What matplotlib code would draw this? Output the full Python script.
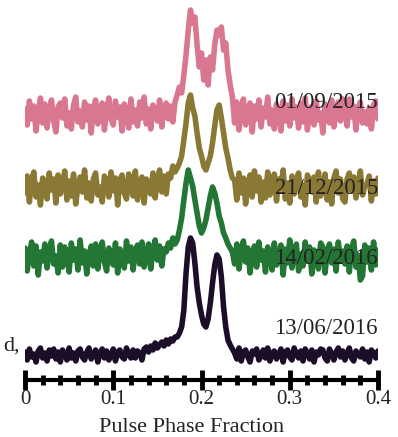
import matplotlib
matplotlib.use("Agg")
import matplotlib.pyplot as plt
import numpy as np

# phase bins (0 .. 0.4, 161 bins)
phase = np.linspace(0, 0.4, 161)

labels = ["01/09/2015", "21/12/2015", "14/02/2016", "13/06/2016"]
colors = ["#d97791", "#8a7934", "#247634", "#1c0e28"]

# profiles (relative to each baseline)
prof_0109 = [6, -10, 14, -4, 9, -16, 3, 17, -8, 11,
             -13, 5, 15, -6, -17, 8, 12, -3, 16, -11,
             2, -14, 10, 18, -7, 4, -12, 13, -5, 9,
             -18, 7, 15, -9, 1, 12, -15, 6, 17, -4,
             -10, 14, -2, 8, -16, 11, 3, -13, 16, -7,
             5, -11, 13, -3, 18, -9, 6, -14, 10, 2,
             -6, 15, -12, 8, 12, -4, 9, -7, 13,
             20, 28, 22, 40, 60, 85, 105, 92, 98, 70, 48, 62, 35, 55, 30, 58, 45, 70, 85, 80,
             88, 65, 72, 45, 30, 18,
             -8, 13, -15, 6, 16, -10, 3, 12, -17, 9,
             -4, 15, -12, 7, -2, 18, -9, 5, -14, 11,
             1, -16, 14, -6, 10, -11, 16, -3, 8, -13,
             12, -7, 17, -15, 4, 9, -10, 14, -5, 2,
             -18, 11, 6, -8, 15, -12, 3, 13, -6, 16,
             5, -11, 16, -2, 9, -15, 7, 13, -8, 3,
             -9, 7, -14, 10, 14, -4]
prof_2112 = [-5, 12, -14, 8, 16, -9, 3, -17, 10, 6,
             -11, 15, -2, 9, -15, 13, -6, 4, 17, -12,
             7, -8, 14, -16, 2, 11, -4, 18, -10, 5,
             -13, 9, 15, -7, 1, -14, 12, 6, -9, 16,
             -3, 10, -17, 8, 13, -5, -11, 14, 4, -8,
             17, -12, 6, 11, -15, 9, 2, -6, 15, -10,
             8, 18, -4, 12, -6, 14, 10, 22, 16,
             20, 25, 32, 48, 65, 85, 93, 80, 72, 55, 40, 32, 22, 18, 25, 32, 45, 62, 78, 83,
             70, 55, 40, 30, 18, 10,
             8, -12, 15, -5, 10, -16, 4, 13, -9, 17,
             -3, 11, -14, 6, -10, 16, -7, 2, 14, -13,
             9, -1, 18, -11, 5, -15, 12, -6, 8, 15,
             -9, 3, -17, 13, 7, -4, 11, -14, 16, -8,
             1, 14, -12, 6, -16, 10, 17, -5, 9, -11,
             -14, 9, 15, -3, 11, -10, 5, 17, -7, 2,
             4, 12, -13, 7, -6, 10]
prof_1402 = [10, -13, 4, 16, -8, 12, -17, 6, -3, 14,
             -10, 8, 17, -6, 2, -15, 13, -9, 11, 5,
             -14, 15, -2, 9, -12, 18, -5, 7, -16, 3,
             12, -8, 14, -11, 6, 16, -4, -13, 10, 1,
             -7, 15, -15, 9, 4, -10, 17, -3, 11, -12,
             7, 13, -6, 16, -9, 2, 14, -11, 8, 18,
             -2, 12, -8, 9, 6, 15, 10, 20, 14,
             18, 28, 40, 58, 75, 88, 80, 72, 58, 45, 32, 25, 30, 38, 50, 62, 71, 65, 55, 42,
             35, 25, 20, 14, 10, 6,
             -6, 14, -11, 8, 17, -4, 10, -15, 3, 12,
             -9, 16, -2, 7, -14, 11, 5, -12, 15, -7,
             1, 13, -17, 9, -5, 18, -10, 6, 14, -13,
             4, -8, 16, -3, 11, -16, 8, 2, -11, 15,
             11, -15, 6, 14, -5, 9, -13, 16, -2, 7,
             -6, 12, -14, 9, 17, -9, 3, -22, -18, 13,
             -4, 10, -12, 16, -7, 8]
prof_1306 = [3, -5, 6, -2, 1, -7, 4, 7, -3, 2,
             -6, 5, -1, 6, -4, 3, -7, 5, 1, -5,
             7, -3, 2, -6, 4, 6, -2, -5, 3, 7,
             -4, 1, 5, -7, 2, 6, -3, 4, -5, 0,
             6, -6, 3, 5, -2, -4, 7, 1, -3, 5, -3, 4,
             2, -5, 6, 8, 3, 9, 5, 12, 7, 10,
             13, 9, 15, 11, 16, 14, 18,
             18, 22, 28, 45, 82, 108, 117, 112, 92, 68, 52, 40, 31, 28, 36, 52, 72, 90, 100, 96,
             78, 48, 28, 15, 10, 6,
             2, -4, 7, -6, 3, 5, -2, -7, 4, 1,
             6, -5, -1, 5, -3, 7, -6, 2, 4, -4,
             0, 6, -7, 3, 5, -2, -5, 7, 1, -3,
             4, -6, 6, 2, -4, 5, -7, 3, 0, 6,
             5, -3, -6, 6, 1, -5, 3, 7, -2, 4,
             -5, 2, 7, -3, -6, 4, 1, -2, 6, -4,
             3, -7, 5, 2, -3, 4]
profiles = [prof_0109, prof_2112, prof_1402, prof_1306]

# vertical stacking
offsets = [240, 167, 97, 0]
label_y = [252, 167, 97, 27]

plt.rcParams['font.family'] = ['Liberation Serif', 'DejaVu Serif']

fig = plt.figure(figsize=(3.98, 4.37), dpi=100)
ax = fig.add_axes([25 / 398, 57 / 437, 353 / 398, 380 / 437])

for prof, off, c in zip(profiles, offsets, colors):
    ax.plot(phase, np.array(prof) + off, color=c, lw=4, solid_joinstyle='round',
            solid_capstyle='round')

for lab, ly in zip(labels, label_y):
    ax.text(0.4, ly, lab, ha='right', va='center', fontsize=16.5, color='#222222')

ax.set_xlim(0, 0.4)
ax.set_ylim(-25, 355)
ax.set_xticks([0, 0.1, 0.2, 0.3, 0.4])
ax.set_xticklabels(["0", "0.1", "0.2", "0.3", "0.4"])
ax.set_xticks(np.arange(0, 0.401, 0.02), minor=True)
ax.tick_params(axis='x', which='major', direction='inout', length=14, width=3.5,
               labelsize=15, pad=0, colors='black', labelcolor='#222222')
ax.tick_params(axis='x', which='minor', direction='inout', length=7, width=3.5)
ax.set_yticks([])
for s in ['left', 'right', 'top']:
    ax.spines[s].set_visible(False)
ax.spines['bottom'].set_linewidth(3)
ax.spines['bottom'].set_capstyle('round')
ax.set_xlabel("Pulse Phase Fraction", fontsize=16, color='#222222')
ax.xaxis.set_label_coords(0.473, -0.1)

# clipped caption fragment on the left edge
fig.text(20 / 398, 1 - 346 / 437, "d,", ha='right', va='center', fontsize=16, color='#222222')

fig.savefig("out.png", dpi=100)
